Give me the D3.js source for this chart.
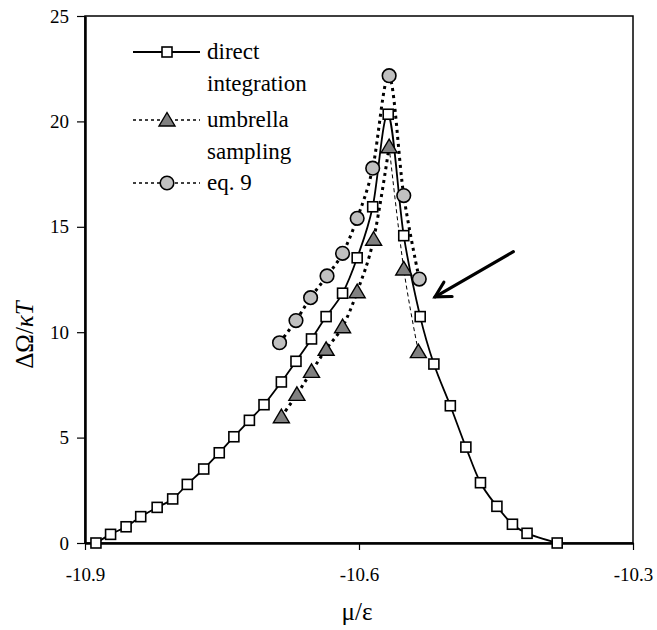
<!DOCTYPE html>
<html>
<head>
<meta charset="utf-8">
<script src="https://cdn.jsdelivr.net/npm/d3@7"></script>
<style>
  body { margin: 0; background: #fff; }
</style>
</head>
<body>
<svg id="chart"></svg>
<script>
// series names
var seriesNames = ["direct integration", "umbrella sampling", "eq. 9"];

// direct integration (squares)
var directX = [-10.888, -10.872, -10.855, -10.839, -10.821, -10.804, -10.788, -10.770, -10.753, -10.737,
               -10.720, -10.704, -10.685, -10.669, -10.652, -10.636, -10.618, -10.602, -10.585, -10.568,
               -10.551, -10.533, -10.518, -10.500, -10.483, -10.467, -10.449, -10.432, -10.416, -10.383];
var directY = [0, 0.41, 0.77, 1.25, 1.69, 2.09, 2.78, 3.51, 4.28, 5.04,
               5.82, 6.56, 7.64, 8.62, 9.68, 10.74, 11.85, 13.53, 15.95, 20.34,
               14.58, 10.74, 8.49, 6.51, 4.55, 2.86, 1.74, 0.89, 0.46, 0];

// umbrella sampling (triangles)
var umbrellaX = [-10.685, -10.668, -10.652, -10.636, -10.618, -10.602, -10.584, -10.567, -10.551, -10.535];
var umbrellaY = [5.99, 7.05, 8.14, 9.19, 10.26, 11.92, 14.41, 18.80, 13.00, 9.08];

// eq. 9 (circles)
var eq9X = [-10.687, -10.669, -10.653, -10.635, -10.618, -10.602, -10.585, -10.567, -10.551, -10.534];
var eq9Y = [9.50, 10.55, 11.64, 12.67, 13.74, 15.40, 17.78, 22.17, 16.48, 12.52];

// axis ticks
var xTicks = [-10.9, -10.6, -10.3];
var yTicks = [0, 5, 10, 15, 20, 25];

// arrow annotation (data coords: tail -> tip)
var arrowFrom = [-10.431, 13.82];
var arrowTo = [-10.5167, 11.68];

var FONT = "Liberation Serif";

var W = 657, H = 630;
var margin = { top: 16, right: 24, bottom: 87, left: 85 },
    width = W - margin.left - margin.right,
    height = H - margin.top - margin.bottom;

var root = d3.select("#chart").attr("width", W).attr("height", H)
  .attr("font-family", FONT);
var svg = root.append("g").attr("transform", "translate(" + margin.left + "," + margin.top + ")");

var x = d3.scaleLinear().domain([-10.9, -10.3]).range([0, width]);
var y = d3.scaleLinear().domain([0, 25]).range([height, 0]);

function pts(xs, ys) { return xs.map(function (v, i) { return [v, ys[i]]; }); }
var direct = pts(directX, directY);
var umbrella = pts(umbrellaX, umbrellaY);
var eq9 = pts(eq9X, eq9Y);

// clip to plot area
svg.append("clipPath").attr("id", "clip")
  .append("rect").attr("width", width).attr("height", height);

// frame
svg.append("rect")
  .attr("width", width).attr("height", height)
  .attr("fill", "none").attr("stroke", "#000").attr("stroke-width", 1.5);

// axes
var yAxis = svg.append("g")
  .call(d3.axisLeft(y).tickValues(yTicks).tickSize(8).tickSizeOuter(0).tickPadding(8));
var xAxis = svg.append("g")
  .attr("transform", "translate(0," + height + ")")
  .call(d3.axisBottom(x).tickValues(xTicks).tickSize(7).tickSizeOuter(0).tickPadding(18)
        .tickFormat(function (d) { return d.toFixed(1); }));
[xAxis, yAxis].forEach(function (a) {
  a.attr("font-family", FONT).attr("font-size", 19);
  a.select(".domain").attr("stroke-width", 2.5);
  a.selectAll(".tick line").attr("stroke-width", 1.2);
  a.selectAll("text").attr("fill", "#000");
});

// lines
var line = d3.line()
  .x(function (d) { return x(d[0]); })
  .y(function (d) { return y(d[1]); })
  .curve(d3.curveCatmullRom.alpha(0));

var lines = svg.append("g").attr("clip-path", "url(#clip)");

lines.append("path").datum(direct)
  .attr("d", line).attr("fill", "none").attr("stroke", "#000").attr("stroke-width", 1.8);

var uPeak = umbrellaY.indexOf(d3.max(umbrellaY));
lines.append("path").datum(umbrella.slice(0, uPeak + 1))
  .attr("d", line).attr("fill", "none").attr("stroke", "#000")
  .attr("stroke-width", 3).attr("stroke-dasharray", "3,4");
lines.append("path").datum(umbrella.slice(uPeak))
  .attr("d", line).attr("fill", "none").attr("stroke", "#000")
  .attr("stroke-width", 1).attr("stroke-dasharray", "4,3");

lines.append("path").datum(eq9)
  .attr("d", line).attr("fill", "none").attr("stroke", "#000")
  .attr("stroke-width", 3).attr("stroke-dasharray", "3,4");

// markers
function square(g, cx, cy) {
  g.append("rect").attr("x", cx - 5).attr("y", cy - 5).attr("width", 10).attr("height", 10)
    .attr("fill", "#fff").attr("stroke", "#000").attr("stroke-width", 1.6);
}
function triangle(g, cx, cy) {
  g.append("path")
    .attr("d", "M" + cx + "," + (cy - 7.5) + "L" + (cx + 8) + "," + (cy + 6) + "L" + (cx - 8) + "," + (cy + 6) + "Z")
    .attr("fill", "#808080").attr("stroke", "#000").attr("stroke-width", 1.4);
}
function circle(g, cx, cy) {
  g.append("circle").attr("cx", cx).attr("cy", cy).attr("r", 6.8)
    .attr("fill", "#c0c0c0").attr("stroke", "#000").attr("stroke-width", 1.6);
}

var marks = svg.append("g");
direct.forEach(function (d) { square(marks, x(d[0]), y(d[1])); });
umbrella.forEach(function (d) { triangle(marks, x(d[0]), y(d[1])); });
eq9.forEach(function (d) { circle(marks, x(d[0]), y(d[1])); });

// arrow
var ax1 = x(arrowFrom[0]), ay1 = y(arrowFrom[1]), ax2 = x(arrowTo[0]), ay2 = y(arrowTo[1]);
var ang = Math.atan2(ay1 - ay2, ax1 - ax2), hl = 17, ha = 29 * Math.PI / 180;
var arrow = svg.append("g").attr("stroke", "#000").attr("stroke-width", 3.2).attr("fill", "none")
  .attr("stroke-linecap", "round");
arrow.append("line").attr("x1", ax1).attr("y1", ay1).attr("x2", ax2).attr("y2", ay2);
arrow.append("path").attr("d",
  "M" + (ax2 + hl * Math.cos(ang + ha)) + "," + (ay2 + hl * Math.sin(ang + ha)) +
  "L" + ax2 + "," + ay2 +
  "L" + (ax2 + hl * Math.cos(ang - ha)) + "," + (ay2 + hl * Math.sin(ang - ha)));

// legend
var legend = svg.append("g").attr("transform", "translate(" + (133 - margin.left) + "," + (52 - margin.top) + ")");
var legendRows = [
  { dy: 0, lines: ["direct", "integration"], dash: null, w: 1.8, mark: square },
  { dy: 68, lines: ["umbrella", "sampling"], dash: "3,3", w: 1.6, mark: triangle },
  { dy: 131, lines: ["eq. 9"], dash: "3,3", w: 1.6, mark: circle }
];
legendRows.forEach(function (r) {
  legend.append("line").attr("x1", 0).attr("x2", 67).attr("y1", r.dy).attr("y2", r.dy)
    .attr("stroke", "#000").attr("stroke-width", r.w).attr("stroke-dasharray", r.dash);
  r.mark(legend, 34, r.dy);
  r.lines.forEach(function (t, j) {
    legend.append("text").attr("x", 74).attr("y", r.dy + j * 32).attr("dy", "0.3em")
      .attr("font-size", 23).text(t);
  });
});

// axis titles
var yl = root.append("text").attr("font-size", 25);
yl.append("tspan").text("ΔΩ/");
yl.append("tspan").attr("font-style", "italic").text("κT");
var ylw = yl.node().getComputedTextLength();
yl.attr("transform", "translate(33," + (335 + ylw / 2) + ") rotate(-90)");

root.append("text").attr("x", 357).attr("y", 620).attr("text-anchor", "middle")
  .attr("font-size", 25).text("μ/ε");
</script>
</body>
</html>
